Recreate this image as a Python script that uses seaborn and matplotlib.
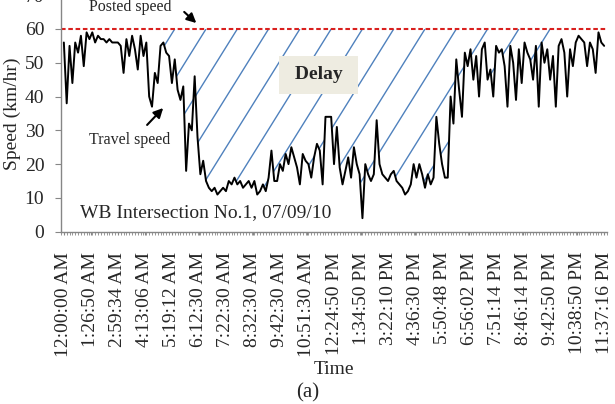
import numpy as np
import pandas as pd
import matplotlib
matplotlib.use("Agg")
import matplotlib.pyplot as plt
import matplotlib.ticker as mticker
from matplotlib.collections import LineCollection
import seaborn as sns

# ── Data ──────────────────────────────────────────────────────
speed = [
    56, 38, 55, 44, 56, 53, 58, 49, 59, 57,
    59, 56, 58, 57, 57, 56, 57, 56, 56, 56,
    55, 47, 57, 52, 58, 54, 48, 58, 52, 56,
    40, 37, 47, 44, 55, 56, 53, 52, 44, 51,
    42, 39, 43, 18, 32, 30, 46, 28, 17, 21,
    15, 13, 12, 13, 11, 12, 13, 12, 15, 14,
    16, 14, 15, 13, 14, 15, 13, 15, 11, 12,
    14, 12, 16, 24, 15, 15, 20, 18, 23, 20,
    25, 22, 19, 14, 23, 21, 20, 16, 22, 26,
    24, 14, 34, 34, 34, 20, 31, 19, 14, 18,
    22, 16, 25, 20, 17, 4, 20, 17, 15, 17,
    33, 20, 17, 16, 15, 17, 18, 15, 14, 13,
    11, 12, 14, 20, 16, 20, 17, 13, 17, 14,
    16, 34, 26, 20, 16, 16, 40, 32, 51, 42,
    34, 53, 49, 54, 45, 52, 40, 54, 56, 45,
    48, 40, 55, 53, 54, 49, 37, 55, 50, 39,
    54, 44, 56, 53, 51, 45, 55, 37, 56, 50,
    54, 45, 52, 37, 55, 57, 53, 40, 54, 49,
    56, 58, 57, 56, 49, 56, 54, 47, 59, 56,
    55,
]
time_labels = [
    "12:00:00 AM", "1:26:50 AM", "2:59:34 AM", "4:13:06 AM", "5:19:12 AM",
    "6:12:30 AM", "7:22:30 AM", "8:32:30 AM", "9:42:30 AM", "10:51:30 AM",
    "12:24:50 PM", "1:34:50 PM", "3:22:10 PM", "4:36:30 PM", "5:50:48 PM",
    "6:56:02 PM", "7:51:14 PM", "8:46:14 PM", "9:42:50 PM", "10:38:50 PM",
    "11:37:16 PM",
]
posted_speed = 60
delay_start, delay_end = 35, 171   # sample range of the hatched delay area

df = pd.DataFrame({"sample": np.arange(len(speed)), "speed": speed})

# ── Style ─────────────────────────────────────────────────────
sns.set_style("ticks")
plt.rcParams["font.family"] = ["Liberation Serif", "DejaVu Serif"]

AXIS_GRAY = "#868686"
HATCH_BLUE = "#4F81BD"
POSTED_RED = "#D9201E"

fig = plt.figure(figsize=(6.15, 4.04), dpi=100)
ax = fig.add_axes([0.0992, 0.4265, 0.8878, 0.5854])

# delay area: invisible polygon, used as clip path for hand-style hatch lines
x = df["sample"].values
mask = (x >= delay_start) & (x <= delay_end)
poly = ax.fill_between(x, df["speed"].values, posted_speed, where=mask,
                       facecolor="none", edgecolor="none")
slope = 1.35
tops = np.linspace(39, 171, 13)
segs = [[(t - posted_speed / slope, 0), (t, posted_speed)] for t in tops]
lc = LineCollection(segs, colors=HATCH_BLUE, linewidths=1.0, zorder=1)
ax.add_collection(lc)
lc.set_clip_path(poly.get_paths()[0], ax.transData)

ax.axhline(posted_speed, color=POSTED_RED, lw=1.5, dashes=(2.2, 1.3), zorder=2)

sns.lineplot(data=df, x="sample", y="speed", color="black", lw=1.4,
             ax=ax, zorder=3)

# ── Axes ──────────────────────────────────────────────────────
ax.set_xlim(-1, len(speed))
ax.set_ylim(0, 70)
ax.set_yticks(np.arange(0, 71, 10))
ax.set_xticks(np.linspace(0, len(speed) - 1, len(time_labels)))
ax.set_xticklabels(time_labels, rotation=90, fontsize=14)
ax.xaxis.set_minor_locator(mticker.MultipleLocator(1))
ax.tick_params(axis="y", labelsize=14, length=4, color=AXIS_GRAY, pad=8)
ax.tick_params(axis="x", which="both", length=2.5, color=AXIS_GRAY, pad=12)
for side in ["top", "right"]:
    ax.spines[side].set_visible(False)
for side in ["left", "bottom"]:
    ax.spines[side].set_color(AXIS_GRAY)
    ax.spines[side].set_linewidth(1.0)

ax.set_ylabel("Speed (km/hr)", fontsize=14, labelpad=3)
ax.set_xlabel("Time", fontsize=14, labelpad=3)

# ── Annotations ───────────────────────────────────────────────
ax.text(23.3, 66.4, "Posted speed", fontsize=11.5, ha="center", va="center")
ax.annotate("", xy=(47.3, 61.2), xytext=(41.6, 65.6),
            arrowprops=dict(arrowstyle="-|>", color="black", lw=1.5,
                            mutation_scale=14))
ax.text(23.3, 27.1, "Travel speed", fontsize=11.5, ha="center", va="center")
ax.annotate("", xy=(35.6, 37.2), xytext=(28.6, 31.0),
            arrowprops=dict(arrowstyle="-|>", color="black", lw=1.5,
                            mutation_scale=14))
ax.text(89.5, 46.4, " Delay ", fontsize=14, fontweight="bold",
        ha="center", va="center", zorder=4,
        bbox=dict(boxstyle="square,pad=0.55", facecolor="#EEECE1",
                  edgecolor="none"))
ax.text(5.7, 5.8, "WB Intersection No.1, 07/09/10", fontsize=14,
        ha="left", va="center")

fig.text(0.5, 1 - 393 / 404, "(a)", fontsize=15, ha="center", va="center")

fig.savefig("out.png", dpi=100, facecolor="white")
